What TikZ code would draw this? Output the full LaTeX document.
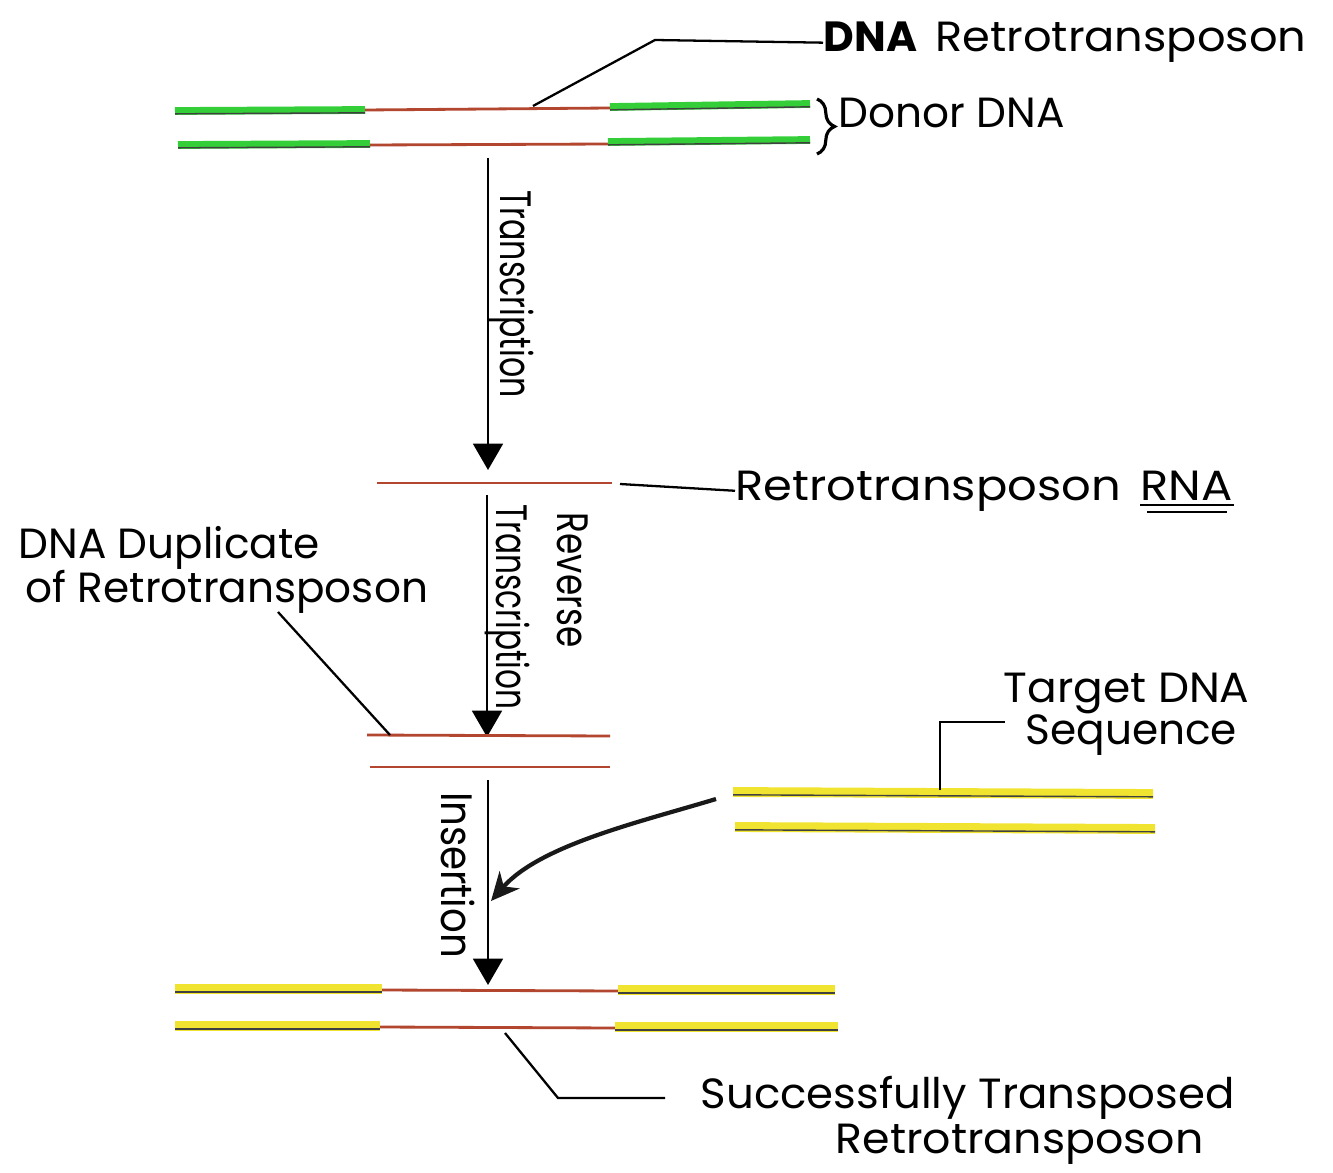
\documentclass[tikz,border=0pt]{standalone}
\usepackage{fontspec}
\setmainfont{Poppins}
\usetikzlibrary{arrows.meta,decorations.pathreplacing}
\definecolor{dnagreen}{RGB}{52,206,56}
\definecolor{dnayellow}{RGB}{240,228,48}
\definecolor{rtbrown}{RGB}{178,70,46}
\begin{document}
\begin{tikzpicture}[x=0.01cm,y=-0.01cm,
  greenband/.style={draw=dnagreen,line width=2.2pt},
  yellowband/.style={draw=dnayellow,line width=2.8pt},
  darkedge/.style={draw=black!75,line width=0.4pt,yshift=-0.8pt},
  brownline/.style={draw=rtbrown,line width=0.8pt},
  leader/.style={draw=black,line width=0.65pt},
  steparrow/.style={draw=black,line width=0.65pt,-{Triangle[width=8.5pt,length=7.5pt]}},
  curvearrow/.style={draw=black!90,line width=1.2pt,-{Stealth[length=8pt,width=7.5pt,inset=2.5pt]}},
  lbl/.style={inner sep=0pt,font=\fontsize{12}{14}\selectfont},
  rlbl/.style={inner sep=0pt,rotate=-90,font=\fontsize{12.5}{14}\selectfont}]
\useasboundingbox (0,0) rectangle (1333,1173);
\fill[white] (0,0) rectangle (1333,1173);

% ---------- Donor DNA ----------
\draw[greenband] (175,111) -- (365,110);
\draw[darkedge] (175,111) -- (365,110);
\draw[brownline] (365,110) -- (610,108);
\draw[greenband] (610,107) -- (810,104);
\draw[darkedge] (610,107) -- (810,104);
\draw[greenband] (178,145) -- (370,144);
\draw[darkedge] (178,145) -- (370,144);
\draw[brownline] (370,145) -- (608,144);
\draw[greenband] (608,142) -- (810,140);
\draw[darkedge] (608,142) -- (810,140);

\coordinate (drA) at (533,106);
\coordinate (drB) at (655,40);
\node[lbl,anchor=base west] (drlbl) at (823,52) {\textbf{DNA}\hspace{0.18cm}\scalebox{1.06}[1]{Retrotransposon}};
\draw[leader] (drA) -- (drB) -- (drlbl.west);

\draw[line width=0.9pt,decorate,decoration={brace,amplitude=5pt}] (817,99) -- (817,154);
\node[lbl,anchor=base west] (donor) at (838,128) {Donor DNA};

% ---------- Transcription ----------
\coordinate (t1s) at (488,158);
\coordinate (t1e) at (488,470);
\draw[steparrow] (t1s) -- (t1e);
\node[rlbl] (t1lbl) at (512,294) {\scalebox{0.72}[1]{Transcription}};

% ---------- RNA ----------
\draw[brownline] (377,483) -- (612,483);
\node[lbl,anchor=base west] (rnalbl) at (735,500) {\scalebox{1.1}[1]{Retrotransposon}};
\node[lbl,anchor=base west] (rnaword) at (1140,500) {\scalebox{1.1}[1]{RNA}};
\coordinate (rnaL) at (620,484);
\draw[leader] (rnaL) -- (rnalbl.west);
\draw[leader] ([yshift=-0.05cm]rnaword.base west) -- ([yshift=-0.05cm]rnaword.base east);
\draw[leader] ([xshift=0.07cm,yshift=-0.12cm]rnaword.base west) -- ([xshift=-0.07cm,yshift=-0.12cm]rnaword.base east);

% ---------- Reverse transcription ----------
\coordinate (t2s) at (487,495);
\coordinate (t2e) at (487,737);
\draw[steparrow] (t2s) -- (t2e);
\node[rlbl] (t2lbl) at (508,607) {\scalebox{0.71}[1]{Transcription}};
\node[rlbl] (revlbl) at (573,580) {\scalebox{0.78}[1]{Reverse}};

% ---------- DNA duplicate ----------
\draw[brownline] (367,735) -- (610,736);
\draw[brownline] (370,767) -- (610,767);
\node[lbl,anchor=base west] (dup1) at (18,558) {DNA Duplicate};
\node[lbl,anchor=base west] (dup2) at (25,602) {of Retrotransposon};
\coordinate (dupA) at (278,612);
\coordinate (dupB) at (390,735);
\draw[leader] (dupA) -- (dupB);

% ---------- Insertion ----------
\coordinate (t3s) at (488,780);
\coordinate (t3e) at (488,985);
\draw[steparrow] (t3s) -- (t3e);
\node[rlbl] (inslbl) at (458,875) {\scalebox{0.88}[1]{Insertion}};

% ---------- Target DNA ----------
\draw[yellowband] (733,792) -- (1153,794);
\draw[darkedge] (733,792) -- (1153,794);
\draw[yellowband] (735,827) -- (1155,829);
\draw[darkedge] (735,827) -- (1155,829);
\node[lbl,anchor=base west] (tg1) at (1003,702) {\scalebox{1.04}[1]{Target DNA}};
\node[lbl,anchor=base west] (tg2) at (1025,744) {Sequence};
\coordinate (tgA) at (940,790);
\coordinate (tgB) at (940,722);
\coordinate (tgC) at (1005,722);
\draw[leader] (tgA) -- (tgB) -- (tgC);

\coordinate (cvs) at (716,799);
\coordinate (cve) at (491,901);
\draw[curvearrow] (cvs) .. controls (640,822) and (540,845) .. (cve);

% ---------- Result ----------
\draw[yellowband] (175,989) -- (382,989);
\draw[darkedge] (175,989) -- (382,989);
\draw[brownline] (382,990) -- (618,991);
\draw[yellowband] (618,990) -- (835,990);
\draw[darkedge] (618,990) -- (835,990);
\draw[yellowband] (175,1026) -- (380,1026);
\draw[darkedge] (175,1026) -- (380,1026);
\draw[brownline] (380,1027) -- (615,1028);
\draw[yellowband] (615,1027) -- (838,1027);
\draw[darkedge] (615,1027) -- (838,1027);

\coordinate (stA) at (505,1033);
\coordinate (stB) at (558,1098);
\coordinate (stC) at (665,1098);
\draw[leader] (stA) -- (stB) -- (stC);
\node[lbl,anchor=base west] (st1) at (700,1108) {\scalebox{1.03}[1]{Successfully Transposed}};
\node[lbl,anchor=base west] (st2) at (835,1153) {\scalebox{1.05}[1]{Retrotransposon}};
\end{tikzpicture}
\end{document}
